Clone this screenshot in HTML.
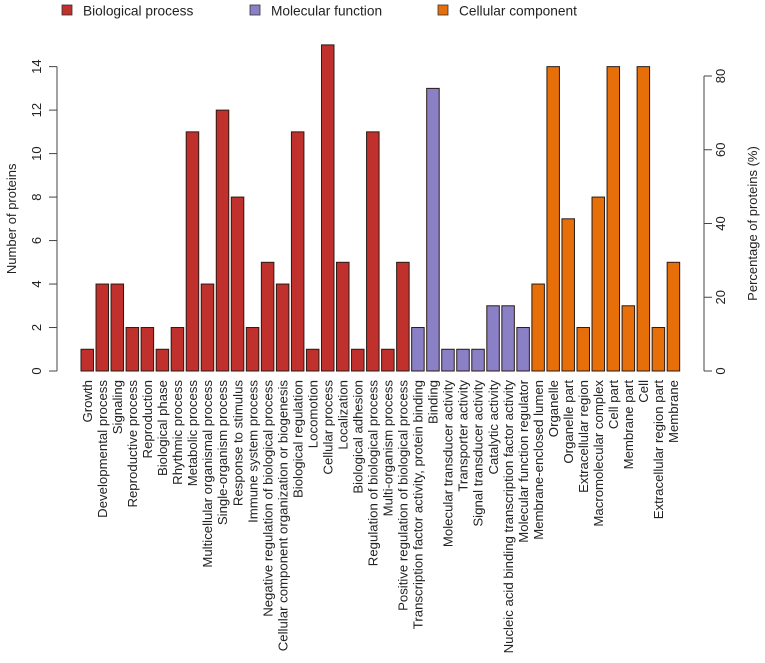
<!DOCTYPE html>
<html><head><meta charset="utf-8"><style>
body{margin:0;background:#fff}
svg{display:block;font-family:"Liberation Sans",Arial,sans-serif}
</style></head><body>
<svg id="chart" width="765" height="663" viewBox="0 0 765 663"></svg>
<script>
const categories=["Growth","Developmental process","Signaling","Reproductive process","Reproduction","Biological phase","Rhythmic process","Metabolic process","Multicellular organismal process","Single-organism process","Response to stimulus","Immune system process","Negative regulation of biological process","Cellular component organization or biogenesis","Biological regulation","Locomotion","Cellular process","Localization","Biological adhesion","Regulation of biological process","Multi-organism process","Positive regulation of biological process","Transcription factor activity, protein binding","Binding","Molecular transducer activity","Transporter activity","Signal transducer activity","Catalytic activity","Nucleic acid binding transcription factor activity","Molecular function regulator","Membrane-enclosed lumen","Organelle","Organelle part","Extracellular region","Macromolecular complex","Cell part","Membrane part","Cell","Extracellular region part","Membrane"];
const counts=[1,4,4,2,2,1,2,11,4,12,8,2,5,4,11,1,15,5,1,11,1,5,2,13,1,1,1,3,3,2,4,14,7,2,8,14,3,14,2,5];
const groups=["bp","bp","bp","bp","bp","bp","bp","bp","bp","bp","bp","bp","bp","bp","bp","bp","bp","bp","bp","bp","bp","bp","mf","mf","mf","mf","mf","mf","mf","mf","cc","cc","cc","cc","cc","cc","cc","cc","cc","cc"];
const leftTicks=[0,2,4,6,8,10,12,14];
const rightTicks=[0,20,40,60,80];
const legendLabels=["Biological process","Molecular function","Cellular component"];
const colors={bp:"#C0302D",mf:"#8A80C6",cc:"#E66F0A"};
const NS="http://www.w3.org/2000/svg";
const svg=document.getElementById('chart');
function el(t,a,txt){const e=document.createElementNS(NS,t);for(const k in a)e.setAttribute(k,a[k]);if(txt!==undefined)e.textContent=txt;svg.appendChild(e);return e;}
const y0=371,unit=21.74;
const y=v=>y0-v*unit;
const pctY=p=>y0-p*(371-76)/80;
const x0=81,pitch=15.03,bw=12.5;
const x=i=>x0+i*pitch;
const la=el('line',{x1:57,x2:57,y1:y(0),y2:y(14),stroke:'#444','stroke-width':1});

leftTicks.forEach(t=>{
 const l=el('line',{x1:49,x2:57,y1:y(t),y2:y(t),stroke:'#444'});
 
 const tx=el('text',{x:0,y:0,transform:`translate(41,${y(t)}) rotate(-90)`,'text-anchor':'middle','font-size':13,fill:'#222'},t);
 
});
const lt=el('text',{transform:`translate(16,${y(7)}) rotate(-90)`,'text-anchor':'middle','font-size':13,fill:'#222'},'Number of proteins');

const ra=el('line',{x1:704,x2:704,y1:pctY(0),y2:pctY(80),stroke:'#444'});

rightTicks.forEach(t=>{
 const l=el('line',{x1:704,x2:712,y1:pctY(t),y2:pctY(t),stroke:'#444'});
 
 const tx=el('text',{transform:`translate(725,${pctY(t)}) rotate(-90)`,'text-anchor':'middle','font-size':13,fill:'#222'},t);
 
});
const rt=el('text',{transform:`translate(757,${pctY(40)}) rotate(-90)`,'text-anchor':'middle','font-size':13,fill:'#222'},'Percentage of proteins (%)');

counts.forEach((v,i)=>{
 const r=el('rect',{x:x(i),y:y(v),width:bw,height:v*unit,fill:colors[groups[i]],stroke:'#2a1a14','stroke-width':1});
 
 
 const t=el('text',{transform:`translate(${x(i)+bw/2+4.7},380) rotate(-90)`,'text-anchor':'end','font-size':13.2,fill:'#222'},categories[i]);
 
});
const lx=[62,250,438],keys=["bp","mf","cc"];
legendLabels.forEach((s,i)=>{
 const r=el('rect',{x:lx[i],y:5,width:10,height:10,fill:colors[keys[i]],stroke:'#333','stroke-width':0.8});
 
 const t=el('text',{x:lx[i]+21,y:15.5,'font-size':13.7,fill:'#222'},s);
 
});
</script>
</body></html>
